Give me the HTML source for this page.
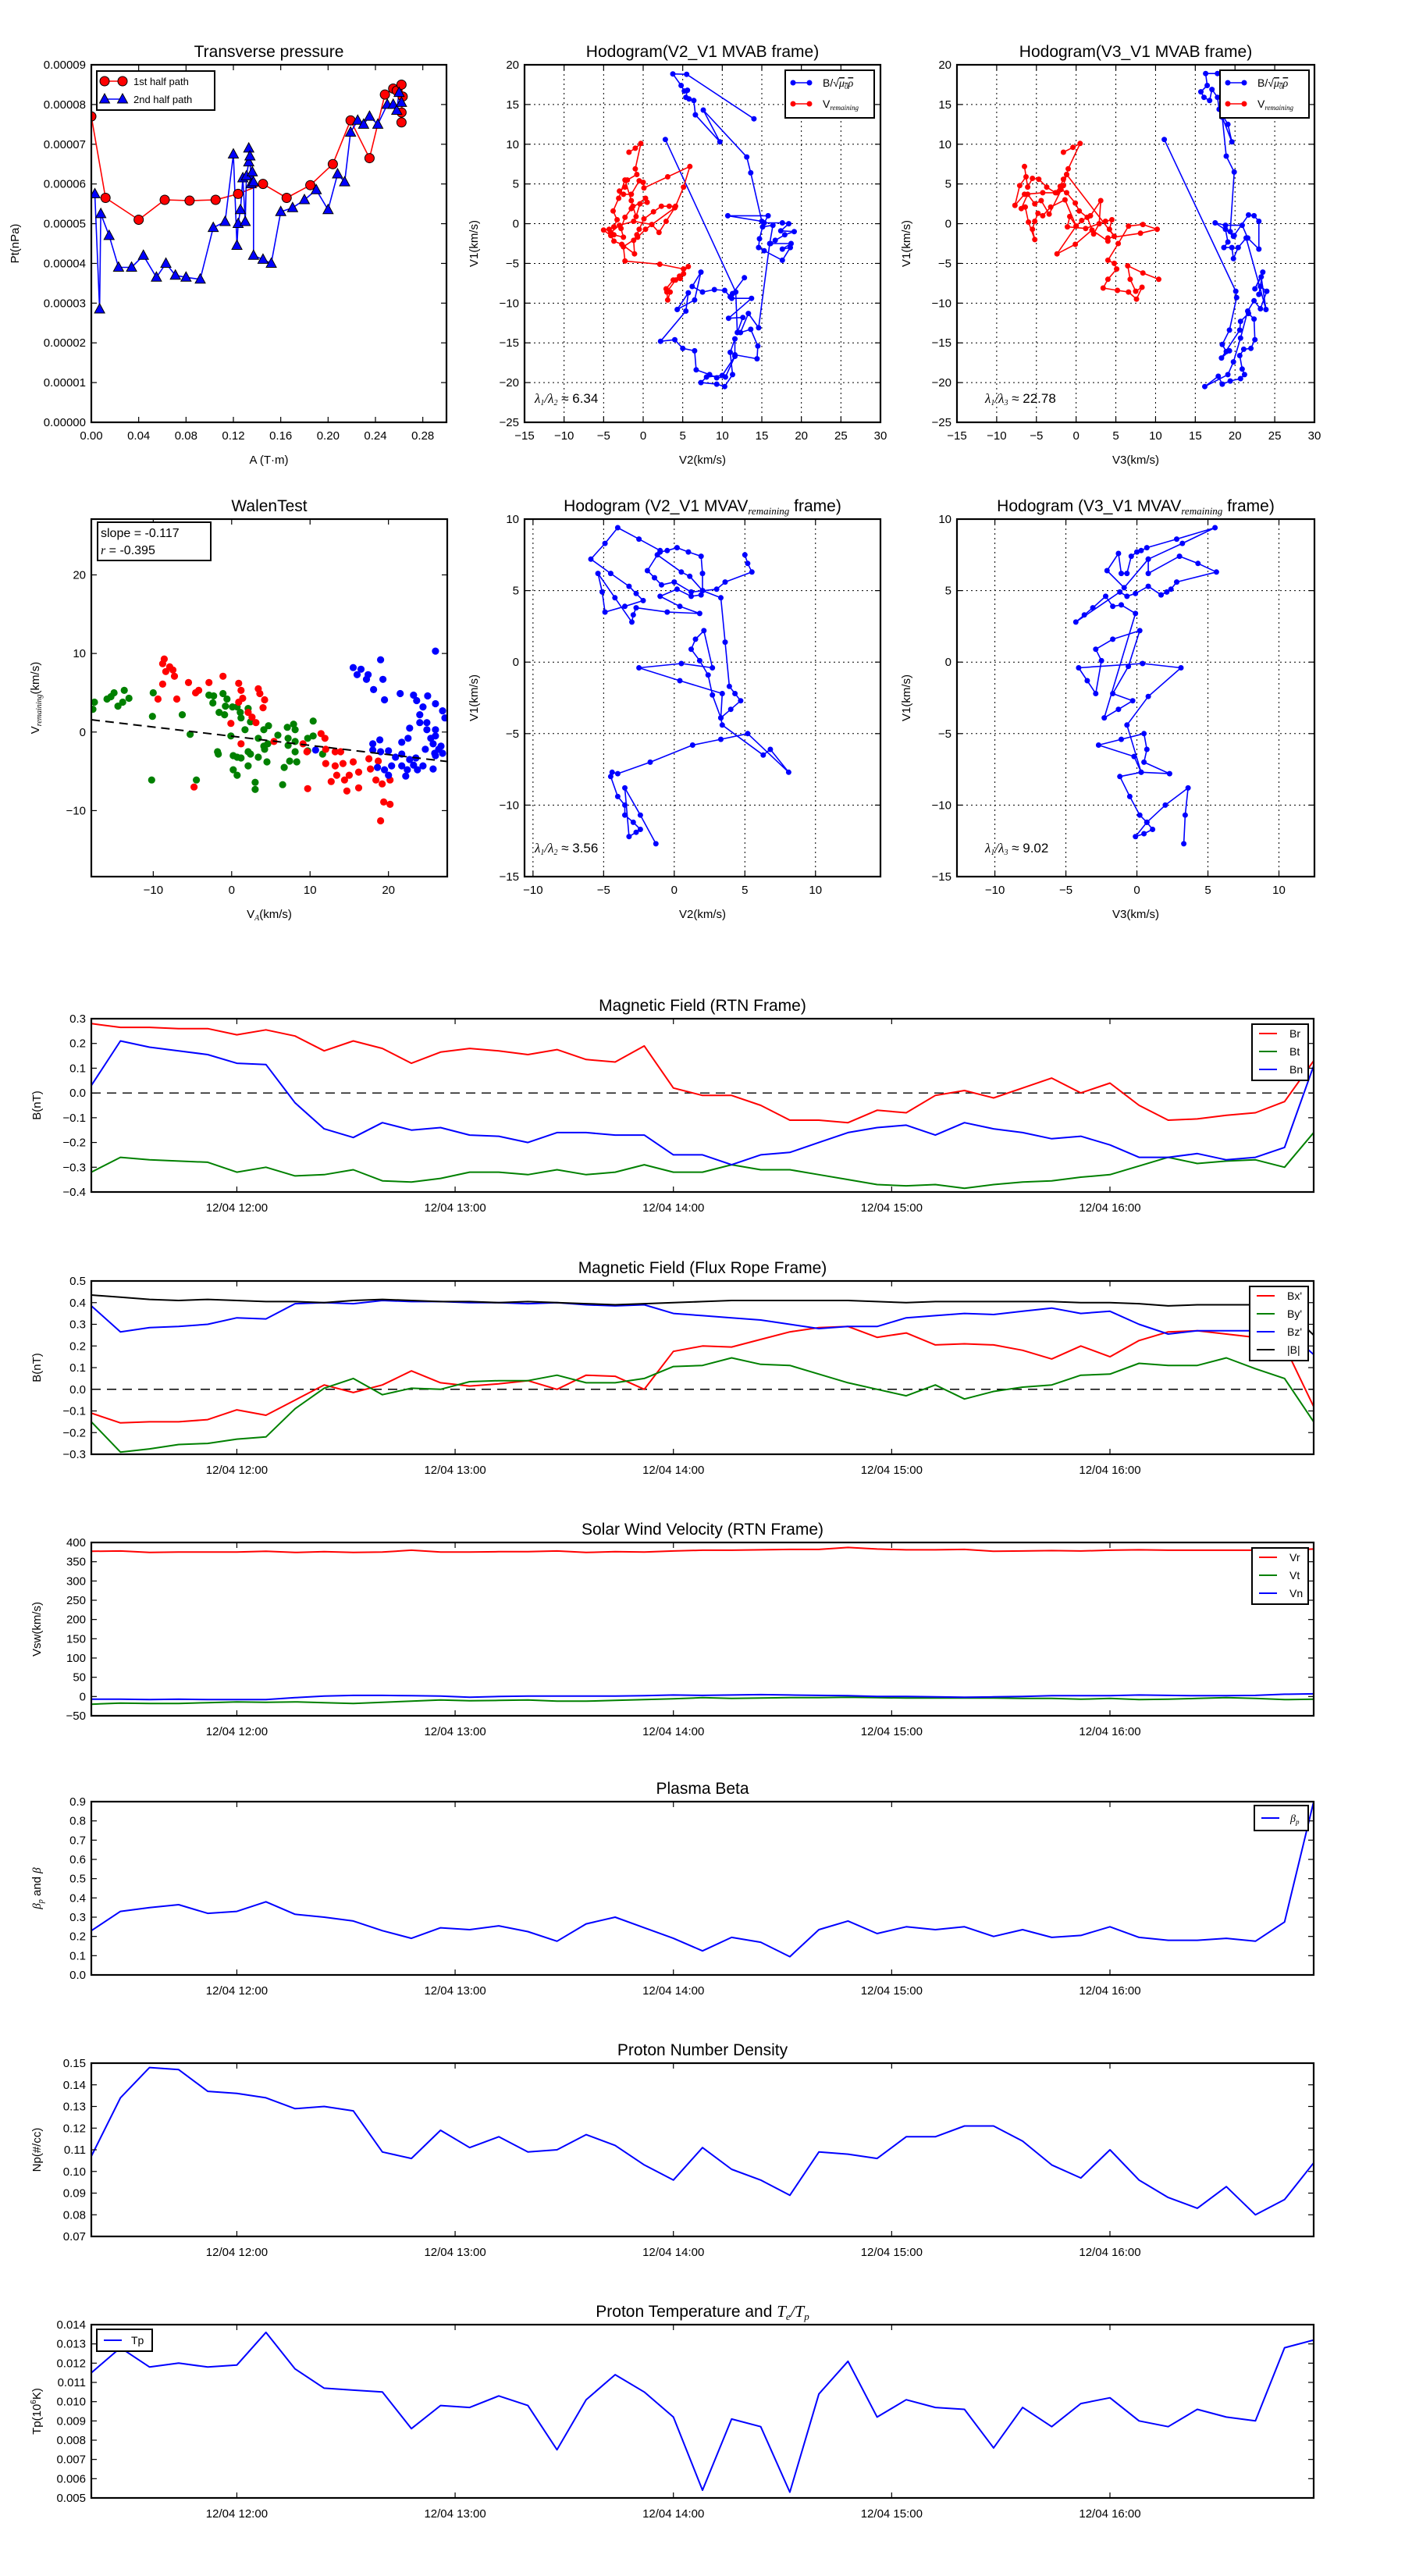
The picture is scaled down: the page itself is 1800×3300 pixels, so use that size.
<!DOCTYPE html>
<html><head><meta charset="utf-8"><style>
html,body{margin:0;padding:0;background:#fff;}
svg{display:block;font-family:"Liberation Sans","DejaVu Sans",sans-serif;}
</style></head><body>
<svg id="fig" xmlns="http://www.w3.org/2000/svg" width="1800" height="3300" viewBox="0 0 1800 3300">
<rect x="0" y="0" width="1800" height="3300" fill="#fff"/>
</svg>
<script>
// ---------- time-series data (minutes since 11:20 on 12/04) ----------
const times = [0,8,16,24,32,40,48,56,64,72,80,88,96,104,112,120,128,136,144,152,160,168,176,184,192,200,208,216,224,232,240,248,256,264,272,280,288,296,304,312,320,328,336];
const timeTickMinutes = [40,100,160,220,280];
const timeTickLabels = ["12/04 12:00","12/04 13:00","12/04 14:00","12/04 15:00","12/04 16:00"];
const Br = [0.28,0.265,0.265,0.26,0.26,0.235,0.255,0.23,0.17,0.21,0.18,0.12,0.165,0.18,0.17,0.155,0.175,0.135,0.125,0.19,0.02,-0.01,-0.01,-0.05,-0.11,-0.11,-0.12,-0.07,-0.08,-0.01,0.01,-0.02,0.02,0.06,0.0,0.04,-0.05,-0.11,-0.105,-0.09,-0.08,-0.035,0.13];
const Bt = [-0.32,-0.26,-0.27,-0.275,-0.28,-0.32,-0.3,-0.335,-0.33,-0.31,-0.355,-0.36,-0.345,-0.32,-0.32,-0.33,-0.31,-0.33,-0.32,-0.29,-0.32,-0.32,-0.29,-0.31,-0.31,-0.33,-0.35,-0.37,-0.375,-0.37,-0.385,-0.37,-0.36,-0.355,-0.34,-0.33,-0.295,-0.26,-0.285,-0.275,-0.27,-0.3,-0.16];
const Bn = [0.03,0.21,0.185,0.17,0.155,0.12,0.115,-0.04,-0.145,-0.18,-0.12,-0.15,-0.14,-0.17,-0.175,-0.2,-0.16,-0.16,-0.17,-0.17,-0.25,-0.25,-0.29,-0.25,-0.24,-0.2,-0.16,-0.14,-0.13,-0.17,-0.12,-0.145,-0.16,-0.185,-0.175,-0.21,-0.26,-0.26,-0.245,-0.27,-0.26,-0.22,0.11];
const Bx = [-0.11,-0.155,-0.15,-0.15,-0.14,-0.095,-0.12,-0.05,0.02,-0.015,0.02,0.085,0.03,0.015,0.025,0.04,0.0,0.065,0.06,0.0,0.175,0.2,0.195,0.23,0.265,0.285,0.29,0.24,0.26,0.205,0.21,0.205,0.18,0.14,0.2,0.15,0.225,0.265,0.27,0.255,0.24,0.2,-0.08];
const By = [-0.15,-0.29,-0.275,-0.255,-0.25,-0.23,-0.22,-0.09,0.005,0.05,-0.025,0.005,0.0,0.035,0.04,0.04,0.065,0.03,0.03,0.05,0.105,0.11,0.145,0.115,0.11,0.07,0.03,0.0,-0.03,0.02,-0.045,-0.01,0.01,0.02,0.065,0.07,0.12,0.11,0.11,0.145,0.095,0.05,-0.15];
const Bz = [0.385,0.265,0.285,0.29,0.3,0.33,0.325,0.395,0.4,0.395,0.41,0.405,0.405,0.4,0.4,0.395,0.4,0.39,0.385,0.39,0.35,0.34,0.33,0.32,0.3,0.28,0.29,0.29,0.33,0.34,0.35,0.345,0.36,0.375,0.35,0.36,0.3,0.255,0.27,0.27,0.27,0.28,0.16];
const Bmag = [0.435,0.425,0.415,0.41,0.415,0.41,0.405,0.405,0.4,0.41,0.415,0.41,0.405,0.405,0.4,0.405,0.4,0.395,0.39,0.395,0.4,0.405,0.41,0.41,0.41,0.41,0.41,0.405,0.4,0.405,0.405,0.405,0.405,0.405,0.4,0.4,0.395,0.385,0.39,0.39,0.39,0.38,0.25];
const Vr = [377,378,374,375,375,375,377,374,376,374,375,380,375,375,376,376,378,374,376,375,378,380,380,381,382,382,387,383,381,381,382,377,378,379,378,380,381,380,380,380,380,380,383];
const Vt = [-20,-17,-18,-18,-16,-14,-15,-14,-16,-18,-15,-12,-9,-11,-10,-9,-12,-12,-10,-8,-6,-3,-5,-4,-3,-3,-2,-3,-4,-4,-4,-4,-5,-5,-7,-5,-8,-7,-5,-3,-5,-8,-7];
const Vn = [-7,-7,-8,-7,-8,-8,-8,-3,1,3,3,2,1,-2,0,1,1,1,1,2,4,3,4,5,4,3,2,0,0,-1,-2,-1,0,2,2,2,4,3,2,2,3,6,7];
const beta = [0.23,0.33,0.35,0.365,0.32,0.33,0.38,0.315,0.3,0.28,0.23,0.19,0.245,0.235,0.255,0.225,0.175,0.265,0.3,0.245,0.19,0.125,0.195,0.17,0.095,0.235,0.28,0.215,0.25,0.235,0.25,0.2,0.235,0.195,0.205,0.25,0.195,0.18,0.18,0.19,0.175,0.275,0.9];
const Np = [0.107,0.134,0.148,0.147,0.137,0.136,0.134,0.129,0.13,0.128,0.109,0.106,0.119,0.111,0.116,0.109,0.11,0.117,0.112,0.103,0.096,0.111,0.101,0.096,0.089,0.109,0.108,0.106,0.116,0.116,0.121,0.121,0.114,0.103,0.097,0.110,0.096,0.088,0.083,0.093,0.080,0.087,0.104];
const Tp = [0.0115,0.0128,0.0118,0.0120,0.0118,0.0119,0.0136,0.0117,0.0107,0.0106,0.0105,0.0086,0.0098,0.0097,0.0103,0.0098,0.0075,0.0101,0.0114,0.0105,0.0092,0.0054,0.0091,0.0087,0.0053,0.0104,0.0121,0.0092,0.0101,0.0097,0.0096,0.0076,0.0097,0.0087,0.0099,0.0102,0.0090,0.0087,0.0096,0.0092,0.0090,0.0128,0.0132];

// ---------- transverse pressure (A in T·m, Pt in 1e-5 nPa) ----------
const tpA1 = [0,0.012,0.04,0.062,0.083,0.105,0.124,0.145,0.165,0.185,0.204,0.219,0.235,0.248,0.255,0.258,0.262,0.263,0.262,0.262];
const tpP1 = [7.7,5.65,5.1,5.6,5.58,5.6,5.75,6.0,5.65,5.97,6.5,7.6,6.65,8.25,8.4,8.35,8.5,8.2,7.8,7.55];
const tpA2 = [0.003,0.007,0.008,0.015,0.023,0.034,0.044,0.055,0.063,0.071,0.08,0.092,0.103,0.113,0.12,0.123,0.124,0.126,0.128,0.13,0.131,0.133,0.133,0.134,0.135,0.136,0.137,0.137,0.145,0.152,0.16,0.17,0.18,0.19,0.2,0.208,0.214,0.219,0.225,0.23,0.235,0.242,0.25,0.255,0.258,0.26,0.262];
const tpP2 = [5.75,2.85,5.25,4.7,3.9,3.9,4.2,3.65,4.0,3.7,3.65,3.6,4.9,5.05,6.75,4.45,5.0,5.35,6.15,5.05,6.2,6.55,6.9,6.7,6.0,6.3,6.05,4.2,4.1,4.0,5.3,5.4,5.6,5.85,5.35,6.25,6.05,7.3,7.6,7.5,7.7,7.5,8.0,8.0,7.85,8.3,8.05];

// ---------- hodogram MVAB V2-V1 ----------
const h1BV2 = [14.0,5.5,3.75,4.8,5.2,5.6,5.4,5.8,6.4,6.6,9.7,7.6,13.1,13.6,15.0,10.7,15.8,15.3,17.6,18.4,17.4,19.1,17.9,16.7,16.1,18.7,17.6,18.6,17.6,15.3,14.6,14.7,15.1,16.4,16.0,14.6,13.3,12.3,13.6,14.5,14.4,11.6,11.6,11.0,11.3,10.3,9.3,7.3,8.0,10.0,11.6,10.4,9.3,8.4,6.7,6.5,5.0,4.0,2.2,5.4,5.7,4.3,6.5,7.3,6.2,7.5,9.0,10.3,11.0,12.8,11.3,11.2,13.7,10.8,12.6,11.9,11.7,2.8];
const h1BV1 = [13.2,18.8,18.85,17.4,16.7,16.8,15.9,15.7,15.5,13.7,10.3,14.3,8.4,6.4,0.3,1.0,1.0,0.1,0.1,0.0,-0.9,-1.0,-1.4,-2.1,-2.5,-2.5,-3.2,-3.0,-4.6,-3.4,-3.0,-1.9,-0.4,-0.2,-2.5,-13.1,-11.3,-13.7,-13.3,-15.4,-17.0,-16.5,-14.5,-16.2,-19.0,-20.5,-20.2,-20.0,-19.3,-19.1,-16.7,-19.3,-19.4,-19.0,-18.4,-16.0,-15.7,-14.6,-14.8,-11.0,-8.7,-10.8,-9.6,-6.1,-7.9,-8.6,-8.3,-8.4,-9.2,-6.8,-8.8,-9.4,-9.4,-11.9,-11.8,-13.7,-8.6,10.6];
const h1VV2 = [-1.8,-1.0,-0.3,-1.0,-0.8,-2.0,-2.3,-3.0,-2.5,-1.5,-0.5,0.0,0.1,3.1,5.9,5.1,4.1,3.3,2.3,1.3,0.1,-0.5,-0.8,-1.2,-1.1,-2.7,-3.7,-4.1,-5.0,-4.3,-3.7,-3.3,-3.8,-3.1,-2.3,-1.5,-1.3,-0.9,-0.4,0.5,0.3,-1.5,-2.3,-2.8,-2.5,-3.7,-4.1,-3.0,-1.2,1.1,2.0,2.9,4.0,0.3,-0.7,-2.5,-2.3,2.1,5.1,5.7,4.6,3.8,2.9,3.4,3.1,3.0,4.1,4.7,5.1];
const h1VV1 = [9.0,9.5,10.1,6.9,6.2,5.5,4.6,4.1,3.7,3.7,5.4,5.2,4.5,5.9,7.2,4.6,2.2,2.2,2.2,1.5,0.6,-0.7,-1.4,-2.1,-3.8,-2.6,-2.2,-1.5,-0.8,-0.7,-0.4,0.5,1.6,3.2,5.5,2.9,2.2,0.9,2.5,2.7,3.2,1.9,0.8,-0.6,-1.7,-1.4,-1.1,-0.2,0.3,-0.1,-1.1,0.3,2.0,-0.7,-1.7,-2.9,-4.7,-5.1,-5.7,-5.4,-6.6,-7.1,-8.2,-8.6,-9.6,-8.6,-7.1,-6.9,-6.3];

// ---------- hodogram MVAB V3-V1 ----------
const h2BV3 = [11.1,20.1,20.2,19.3,18.4,18.9,19.3,18.3,20.6,20.7,21.7,22.4,22.5,22.0,21.1,20.6,20.9,21.2,20.7,19.4,18.4,17.9,16.2,19.1,19.8,20.7,21.6,22.4,23.2,24.0,23.2,23.0,23.5,22.5,23.3,23.9,21.4,20.4,19.8,19.6,18.6,19.1,18.8,19.8,21.7,22.4,23.0,23.0,21.6,20.9,18.8,17.5,19.9,19.4,19.9,18.9,18.4,19.6,19.1,18.0,17.8,17.1,16.8,16.1,15.7,16.5,16.3,17.8];
const h2BV1 = [10.6,-8.5,-9.3,-13.4,-15.2,-16.1,-16.0,-16.9,-13.4,-12.3,-11.3,-12.0,-14.6,-15.7,-15.8,-16.6,-18.3,-19.0,-19.5,-19.8,-20.2,-19.2,-20.5,-19.0,-17.4,-14.4,-11.0,-9.7,-10.7,-8.5,-7.9,-8.9,-6.1,-8.2,-6.7,-10.8,-1.8,-3.0,-4.4,-3.0,-3.0,-2.3,-0.7,-1.6,1.1,1.0,0.3,-3.2,-1.8,-0.2,-0.2,0.1,-1.5,-1.0,6.5,8.5,13.4,10.3,12.5,14.4,15.9,16.9,15.5,15.9,16.6,17.4,18.9,18.9];
const h2VV3 = [10.4,8.4,6.5,6.8,7.5,8.3,7.6,6.6,5.2,3.4,4.0,5.1,4.8,4.0,5.3,6.6,8.4,10.2,8.1,4.0,4.0,2.0,-0.1,-2.4,0.0,-1.4,-3.2,-4.2,-4.8,-5.2,-5.5,-5.2,-6.0,-6.4,-6.9,-6.1,-5.2,-4.4,-3.4,-1.6,-1.2,4.8,4.2,4.5,3.7,1.2,-1.1,-0.8,0.0,0.7,1.8,3.1,2.9,2.2,1.4,0.4,-0.1,-1.2,-1.9,-2.4,-4.2,-6.5,-7.7,-7.1,-6.3,-6.5,-6.1,-5.5,-4.7,-3.7,-2.6,-2.0,-1.6,-1.2,-1.0,0.5,-0.4,-1.6];
const h2VV1 = [-7.0,-6.2,-5.3,-7.0,-8.5,-8.0,-9.5,-8.6,-8.4,-8.1,-7.0,-5.7,-5.0,-4.6,-2.5,-0.3,-0.1,-0.7,-1.2,-1.8,-2.2,-0.8,-2.6,-3.8,-0.3,3.0,2.1,1.0,1.3,0.3,-0.7,-2.0,0.2,2.1,1.9,3.7,2.5,2.9,1.2,4.8,6.2,-1.6,-0.7,0.5,0.3,-0.6,-0.4,0.9,-0.3,0.4,1.0,2.9,0.0,-1.3,0.8,1.6,2.6,3.9,4.3,3.9,3.9,3.7,2.3,4.8,5.9,7.2,4.6,5.7,5.6,4.6,3.9,4.7,5.6,6.2,6.9,10.1,9.6,9.0];

// ---------- hodogram MVAV V2-V1 ----------
const h3V2 = [-1.3,-2.4,-3.5,-3.2,-2.7,-2.4,-2.9,-3.5,-3.5,-4.0,-4.5,-4.4,-4.0,-1.7,1.3,3.3,5.2,8.1,6.8,6.3,3.4,3.3,2.7,2.4,1.8,1.2,1.5,2.1,2.7,0.5,-2.5,0.4,3.4,3.3,4.0,4.7,4.3,3.9,3.6,3.3,2.0,2.0,1.9,1.0,0.2,-0.5,-1.0,-1.2,0.5,1.1,2.0,1.9,1.2,0.2,-1.0,0.4,1.8,-0.5,-2.7,-2.9,-3.0,-4.2,-5.4,-5.1,-4.9,-3.5,-2.2,-2.7,-3.2,-4.5,-5.9,-4.9,-4.0,-2.5,-1.0,-1.9,-1.4,-0.9,0.0,1.2,3.0,3.6,5.5,5.2,5.0];
const h3V1 = [-12.7,-10.7,-8.8,-12.2,-11.9,-11.7,-11.2,-10.7,-10.0,-9.4,-8.0,-7.7,-7.8,-7.0,-5.8,-5.4,-5.0,-7.7,-6.1,-6.5,-4.4,-3.9,-2.3,-0.9,0.1,0.9,1.6,2.2,-0.4,-0.1,-0.4,-1.3,-2.2,-3.9,-3.3,-2.7,-2.2,-1.7,1.4,4.5,5.0,6.2,7.4,7.7,8.0,7.8,7.7,7.5,6.3,6.0,5.0,4.7,4.6,5.1,4.6,3.9,3.4,3.5,3.8,3.3,2.8,4.5,6.2,4.9,3.5,3.9,4.3,4.8,5.3,6.2,7.2,8.3,9.4,8.6,7.8,6.4,5.9,5.4,5.6,4.9,5.1,5.6,6.3,6.9,7.5];

// ---------- hodogram MVAV V3-V1 ----------
const h4V3 = [3.3,3.4,3.6,2.0,0.7,1.1,0.5,-0.1,0.7,0.2,-0.5,-1.2,0.3,2.3,0.5,0.7,0.5,-1.1,-2.7,-0.2,0.3,-0.7,0.8,3.1,0.4,-4.1,-3.5,-2.9,-2.5,-2.9,-1.7,0.2,-0.6,-1.7,-0.3,-1.3,-2.3,-0.1,-1.1,-1.7,-2.2,-3.1,-3.7,-4.3,-1.2,-0.7,-0.1,0.8,1.7,2.1,2.4,2.8,5.6,4.3,3.0,0.8,0.8,-0.9,-2.1,-1.3,-1.1,-0.7,-0.4,0.0,0.3,0.7,2.8,5.5,3.2,0.8];
const h4V1 = [-12.7,-10.7,-8.8,-10.0,-11.2,-11.7,-12.0,-12.2,-11.2,-10.7,-9.4,-8.0,-7.7,-7.8,-7.0,-6.1,-5.0,-5.4,-5.8,-6.6,-7.7,-4.4,-2.4,-0.4,-0.1,-0.4,-1.3,-2.2,0.1,0.9,1.6,2.2,-0.3,-2.2,-2.7,-3.3,-3.9,3.4,4.0,3.9,4.6,3.8,3.3,2.8,4.9,4.6,4.8,5.3,4.7,4.9,5.1,5.6,6.3,6.9,7.4,6.2,7.2,5.2,6.4,7.6,6.2,6.2,7.4,7.7,7.8,8.0,8.6,9.4,8.3,7.2];

// ---------- Walen test scatter ----------
const wGreenVA = [-17.5,-17.7,-15.9,-15.0,-15.4,-14.5,-13.7,-13.1,-13.9,-10.0,-10.1,-10.2,-6.3,-5.3,-4.5,-2.9,-2.3,-2.4,-1.6,-1.1,-0.6,-0.9,-0.8,0.1,-0.1,0.7,1.2,1.1,2.1,1.7,2.4,4.1,4.7,5.9,7.1,7.9,8.1,7.2,8.1,9.7,10.4,10.4,9.7,11.6,-1.8,-1.7,0.2,0.7,1.2,2.1,2.4,3.4,4.2,4.6,2.1,0.2,0.7,3.0,3.0,4.5,6.7,7.4,8.3,6.5,4.1,3.4,7.2,8.1];
const wGreenV = [3.8,2.9,4.2,5.0,4.5,3.3,5.3,4.3,3.8,5.0,2.0,-6.1,2.2,-0.3,-6.1,4.7,4.6,3.7,2.5,4.9,4.2,2.2,3.3,3.2,-0.5,3.2,1.8,2.5,3.0,0.3,1.3,0.3,0.8,-0.4,0.6,1.0,0.3,-0.8,-1.2,-0.8,1.4,-0.5,-2.4,-2.8,-2.5,-2.8,-3.0,-3.2,-3.3,-2.5,-2.8,-3.2,-2.2,-1.5,-4.3,-4.8,-5.5,-6.4,-7.3,-3.8,-4.5,-3.7,-3.8,-6.7,-1.8,-0.8,-1.7,-2.5];
const wRedVA = [-8.6,-8.8,-7.9,-7.5,-8.4,-7.3,-8.8,-9.4,-7.0,-5.5,-4.6,-4.2,-2.9,-1.1,0.9,1.2,1.4,0.9,-0.1,1.2,2.1,2.6,3.4,3.6,4.2,4.0,3.1,5.4,9.1,9.6,11.4,11.9,12.0,13.2,13.9,12.0,13.2,14.2,15.5,13.4,12.7,14.4,15.0,16.2,16.2,14.7,9.7,-4.8,17.5,17.7,18.4,19.2,20.2,19.4,20.2,19.0,18.7];
const wRedV = [9.3,8.7,8.3,7.9,7.7,7.1,6.1,4.2,4.2,6.3,5.0,5.3,6.3,7.1,6.2,5.3,4.3,3.8,1.1,-1.5,2.5,1.9,5.5,4.9,4.1,3.1,1.2,-1.2,-1.5,-2.5,-0.2,-0.8,-2.2,-2.5,-2.5,-4.0,-4.3,-4.0,-3.8,-5.5,-6.3,-6.1,-5.5,-5.1,-7.1,-7.5,-7.2,-7.0,-3.4,-4.7,-6.1,-6.6,-6.1,-8.9,-9.2,-11.3,-3.7];
const wBlueVA = [15.5,16.0,16.5,17.4,17.2,19.0,19.3,18.1,19.5,21.5,23.2,23.6,25.0,26.0,24.4,24.0,24.0,24.9,24.9,26.0,26.0,26.9,27.2,22.7,22.5,21.7,18.0,18.9,18.0,19.0,20.0,20.9,21.7,22.7,23.5,24.7,25.7,26.4,26.9,26.0,18.6,19.5,20.4,21.7,22.4,23.7,22.2,20.0,25.7,24.4,23.2,10.7,26.7,25.4,25.9,26.0];
const wBlueV = [8.2,7.3,8.0,7.3,6.7,9.2,6.7,5.4,4.1,4.9,4.7,4.0,4.6,3.6,3.2,2.2,1.2,1.2,0.3,0.3,-0.5,2.7,1.8,0.5,-0.8,-1.3,-1.5,-1.0,-2.3,-2.5,-2.4,-3.2,-2.8,-3.5,-3.3,-2.2,-1.5,-2.2,-2.7,-3.0,-4.5,-4.8,-4.3,-4.3,-4.8,-4.8,-5.6,-5.5,-4.7,-4.3,-4.2,-2.3,-1.8,-0.8,-2.7,10.3];
const walenSlope = -0.117;
const walenIntercept = -0.53;

// ================= drawing =================
const NS = "http://www.w3.org/2000/svg";
const svg = document.getElementById('fig');
function mk(tag, attrs, parent){
  const e = document.createElementNS(NS, tag);
  for (const k in attrs) e.setAttribute(k, attrs[k]);
  (parent || svg).appendChild(e);
  return e;
}
function txt(str, x, y, size, anchor, parent, extra){
  const t = mk('text', Object.assign({x:x, y:y, 'font-size':size, 'text-anchor':anchor||'start', fill:'#000'}, extra||{}), parent);
  t.textContent = str;
  return t;
}
function scale(d0,d1,r0,r1){ return v => r0 + (v-d0)/(d1-d0)*(r1-r0); }
let clipId = 0;

function frame(g, x0, y0, w, h, name){
  const r = mk('rect', {x:x0, y:y0, width:w, height:h, fill:'none', stroke:'#000', 'stroke-width':2.2}, g);
  
  
}
function clip(g, x0, y0, w, h){
  clipId++;
  const cp = mk('clipPath', {id:'cp'+clipId}, g);
  mk('rect', {x:x0, y:y0, width:w, height:h}, cp);
  const cg = mk('g', {'clip-path':'url(#cp'+clipId+')'}, g);
  
  
  return cg;
}
function xTicks(g, sx, vals, labels, y0, y1, labY, grid){
  vals.forEach((v,i)=>{
    const x = sx(v);
    const t1 = mk('line', {x1:x, x2:x, y1:y1, y2:y1-7, stroke:'#000', 'stroke-width':1.2}, g);
    
    
    const t2 = mk('line', {x1:x, x2:x, y1:y0, y2:y0+7, stroke:'#000', 'stroke-width':1.2}, g);
    
    
    if (grid){
      const gl = mk('line', {x1:x, x2:x, y1:y0, y2:y1, stroke:'#000', 'stroke-width':1, 'stroke-dasharray':'2,4'}, g);
      
      
    }
    const lab = txt(labels[i], x, labY, 15, 'middle', g);
    
    
  });
}
function yTicks(g, sy, vals, labels, x0, x1, grid){
  vals.forEach((v,i)=>{
    const y = sy(v);
    const t1 = mk('line', {x1:x0, x2:x0+7, y1:y, y2:y, stroke:'#000', 'stroke-width':1.2}, g);
    
    
    const t2 = mk('line', {x1:x1, x2:x1-7, y1:y, y2:y, stroke:'#000', 'stroke-width':1.2}, g);
    
    
    if (grid){
      const gl = mk('line', {x1:x0, x2:x1, y1:y, y2:y, stroke:'#000', 'stroke-width':1, 'stroke-dasharray':'2,4'}, g);
      
      
    }
    const lab = txt(labels[i], x0-7, y+5, 15, 'end', g);
    
    
  });
}
function polyline(g, xs, ys, sx, sy, color, width){
  const pts = xs.map((v,i)=> sx(v).toFixed(1)+','+sy(ys[i]).toFixed(1)).join(' ');
  return mk('polyline', {points:pts, fill:'none', stroke:color, 'stroke-width':width, 'stroke-linejoin':'round'}, g);
}

// ---------- time series panels ----------
const TSX0 = 117, TSX1 = 1683, TSH = 222;
const sxT = scale(0, 336, TSX0, TSX1);
function tsPanel(cfg){
  const g = mk('g', {});
  
  
  const y0 = cfg.top, y1 = cfg.top + TSH;
  const sy = scale(cfg.ymin, cfg.ymax, y1, y0);
  const title = txt('', (TSX0+TSX1)/2, y0-10, 21, 'middle', g);
  title.innerHTML = cfg.title;
  
  
  const yl = txt('', 52, (y0+y1)/2, 15, 'middle', g, {transform:'rotate(-90 52 '+((y0+y1)/2)+')'});
  yl.innerHTML = cfg.ylabel;
  
  
  const cg = clip(g, TSX0, y0, TSX1-TSX0, TSH);
  if (cfg.zero){
    const zl = mk('line', {x1:TSX0, x2:TSX1, y1:sy(0), y2:sy(0), stroke:'#000', 'stroke-width':1.4, 'stroke-dasharray':'12,8'}, cg);
    
    
  }
  cfg.series.forEach(s=>{
    const p = polyline(cg, times, s.vals, sxT, sy, s.color, 2);
    
    
  });
  xTicks(g, sxT, timeTickMinutes, timeTickLabels, y0, y1, y1+25, false);
  yTicks(g, sy, cfg.yticks, cfg.ylabels, TSX0, TSX1, false);
  frame(g, TSX0, y0, TSX1-TSX0, TSH, cfg.name);
  if (cfg.legend){
    const L = cfg.legend;
    const lg = mk('g', {}, g);
    
    
    const box = mk('rect', {x:L.x, y:L.y, width:L.w, height:L.h, fill:'#fff', stroke:'#000', 'stroke-width':2}, lg);
    
    
    cfg.series.forEach((s,i)=>{
      const yy = L.y + L.first + i*L.step;
      const ln = mk('line', {x1:L.x+9, x2:L.x+32, y1:yy, y2:yy, stroke:s.color, 'stroke-width':2}, lg);
      
      
      const lt = txt('', L.x+L.tx, yy+5, 14, 'start', lg);
      lt.innerHTML = s.label;
      
      
    });
  }
}
const tsTop = [1305, 1641, 1976, 2308, 2643, 2978];
tsPanel({name:'magnetic-field-rtn-panel', top:tsTop[0], ymin:-0.4, ymax:0.3, title:'Magnetic Field (RTN Frame)', ylabel:'B(nT)', zero:true,
  yticks:[-0.4,-0.3,-0.2,-0.1,0,0.1,0.2,0.3], ylabels:['−0.4','−0.3','−0.2','−0.1','0.0','0.1','0.2','0.3'],
  series:[{key:'br',vals:Br,color:'#ff0000',label:'Br'},{key:'bt',vals:Bt,color:'#008000',label:'Bt'},{key:'bn',vals:Bn,color:'#0000ff',label:'Bn'}],
  legend:{x:1604,y:1312,w:72,h:72,first:12,step:23,tx:48}});
tsPanel({name:'magnetic-field-flux-rope-panel', top:tsTop[1], ymin:-0.3, ymax:0.5, title:'Magnetic Field (Flux Rope Frame)', ylabel:'B(nT)', zero:true,
  yticks:[-0.3,-0.2,-0.1,0,0.1,0.2,0.3,0.4,0.5], ylabels:['−0.3','−0.2','−0.1','0.0','0.1','0.2','0.3','0.4','0.5'],
  series:[{key:'bx-prime',vals:Bx,color:'#ff0000',label:"Bx'"},{key:'by-prime',vals:By,color:'#008000',label:"By'"},{key:'bz-prime',vals:Bz,color:'#0000ff',label:"Bz'"},{key:'b-magnitude',vals:Bmag,color:'#000000',label:'|B|'}],
  legend:{x:1601,y:1648,w:75,h:95,first:12,step:23,tx:48}});
tsPanel({name:'solar-wind-velocity-panel', top:tsTop[2], ymin:-50, ymax:400, title:'Solar Wind Velocity (RTN Frame)', ylabel:'Vsw(km/s)', zero:false,
  yticks:[-50,0,50,100,150,200,250,300,350,400], ylabels:['−50','0','50','100','150','200','250','300','350','400'],
  series:[{key:'vr',vals:Vr,color:'#ff0000',label:'Vr'},{key:'vt',vals:Vt,color:'#008000',label:'Vt'},{key:'vn',vals:Vn,color:'#0000ff',label:'Vn'}],
  legend:{x:1604,y:1983,w:72,h:72,first:12,step:23,tx:48}});
tsPanel({name:'plasma-beta-panel', top:tsTop[3], ymin:0, ymax:0.9, title:'Plasma Beta', ylabel:'<tspan font-style="italic" font-family="Liberation Serif">β<tspan font-size="10" dy="3">p</tspan></tspan><tspan dy="-3"> and </tspan><tspan font-style="italic" font-family="Liberation Serif">β</tspan>', zero:false,
  yticks:[0,0.1,0.2,0.3,0.4,0.5,0.6,0.7,0.8,0.9], ylabels:['0.0','0.1','0.2','0.3','0.4','0.5','0.6','0.7','0.8','0.9'],
  series:[{key:'beta-p',vals:beta,color:'#0000ff',label:'<tspan font-style="italic" font-family="Liberation Serif">β<tspan font-size="9" dy="3">p</tspan></tspan>'}],
  legend:{x:1607,y:2313,w:69,h:32,first:16,step:23,tx:46}});
tsPanel({name:'proton-density-panel', top:tsTop[4], ymin:0.07, ymax:0.15, title:'Proton Number Density', ylabel:'Np(#/cc)', zero:false,
  yticks:[0.07,0.08,0.09,0.10,0.11,0.12,0.13,0.14,0.15], ylabels:['0.07','0.08','0.09','0.10','0.11','0.12','0.13','0.14','0.15'],
  series:[{key:'np',vals:Np,color:'#0000ff',label:'Np'}]});
tsPanel({name:'proton-temperature-panel', top:tsTop[5], ymin:0.005, ymax:0.014, title:'Proton Temperature and <tspan font-style="italic" font-family="Liberation Serif">T<tspan font-size="13" dy="4">e</tspan><tspan dy="-4">/T</tspan><tspan font-size="13" dy="4">p</tspan></tspan>', ylabel:'Tp(10<tspan font-size="10" dy="-6">6</tspan><tspan dy="6">K)</tspan>', zero:false,
  yticks:[0.005,0.006,0.007,0.008,0.009,0.010,0.011,0.012,0.013,0.014], ylabels:['0.005','0.006','0.007','0.008','0.009','0.010','0.011','0.012','0.013','0.014'],
  series:[{key:'tp',vals:Tp,color:'#0000ff',label:'Tp'}],
  legend:{x:124,y:2984,w:71,h:28,first:14,step:23,tx:44}});

// ---------- square panels ----------
function sqPanel(cfg){
  const g = mk('g', {});
  
  
  const sx = scale(cfg.xmin, cfg.xmax, cfg.x0, cfg.x0+cfg.w);
  const sy = scale(cfg.ymin, cfg.ymax, cfg.y0+cfg.h, cfg.y0);
  const title = txt('', cfg.x0+cfg.w/2, cfg.y0-10, 21, 'middle', g);
  title.innerHTML = cfg.title;
  
  
  const xl = txt('', cfg.x0+cfg.w/2, cfg.y0+cfg.h+53, 15, 'middle', g);
  xl.innerHTML = cfg.xlabel;
  
  
  const yx = cfg.ylabX, yc = cfg.y0+cfg.h/2;
  const yl = txt('', yx, yc, 15, 'middle', g, {transform:'rotate(-90 '+yx+' '+yc+')'});
  yl.innerHTML = cfg.ylabel;
  
  
  xTicks(g, sx, cfg.xticks, cfg.xlabels, cfg.y0, cfg.y0+cfg.h, cfg.y0+cfg.h+22, cfg.grid);
  yTicks(g, sy, cfg.yticks, cfg.ylabels, cfg.x0, cfg.x0+cfg.w, cfg.grid);
  const cg = clip(g, cfg.x0, cfg.y0, cfg.w, cfg.h);
  return {g, cg, sx, sy};
}
function markers(g, xs, ys, sx, sy, color, r, name){
  xs.forEach((v,i)=>{
    const c = mk('circle', {cx:sx(v).toFixed(1), cy:sy(ys[i]).toFixed(1), r:r, fill:color, stroke:'none'}, g);
    
    
  });
}
const mkLbl = s => s.map(v => (v<0?'−':'') + Math.abs(v));

// Transverse pressure
{
  const P = sqPanel({name:'transverse-pressure-panel', x0:117, y0:83, w:455, h:458, xmin:0, xmax:0.3, ymin:0, ymax:9,
    title:'Transverse pressure', xlabel:'A (T·m)', ylabel:'Pt(nPa)', ylabX:24, grid:false,
    xticks:[0,0.04,0.08,0.12,0.16,0.2,0.24,0.28], xlabels:['0.00','0.04','0.08','0.12','0.16','0.20','0.24','0.28'],
    yticks:[0,1,2,3,4,5,6,7,8,9], ylabels:['0.00000','0.00001','0.00002','0.00003','0.00004','0.00005','0.00006','0.00007','0.00008','0.00009']});
  const l1 = polyline(P.cg, tpA1, tpP1, P.sx, P.sy, '#ff0000', 1.6);
  
  
  const l2 = polyline(P.cg, tpA2, tpP2, P.sx, P.sy, '#0000ff', 1.6);
  
  
  tpA1.forEach((v,i)=>{
    const c = mk('circle', {cx:P.sx(v), cy:P.sy(tpP1[i]), r:6, fill:'#ff0000', stroke:'#000', 'stroke-width':1}, P.cg);
    
    
  });
  tpA2.forEach((v,i)=>{
    const x = P.sx(v), y = P.sy(tpP2[i]);
    const t = mk('polygon', {points:`${x},${y-7} ${x-6.5},${y+5} ${x+6.5},${y+5}`, fill:'#0000ff', stroke:'#000', 'stroke-width':1}, P.cg);
    
    
  });
  frame(P.g, 117, 83, 455, 458, 'transverse-pressure');
  const lg = mk('g', {}, P.g);
  
  
  const box = mk('rect', {x:124, y:91, width:151, height:50, fill:'#fff', stroke:'#000', 'stroke-width':2}, lg);
  
  
  mk('line', {x1:134, x2:157, y1:104, y2:104, stroke:'#ff0000', 'stroke-width':1.6}, lg);
  [134,157].forEach(x=>mk('circle', {cx:x, cy:104, r:6, fill:'#ff0000', stroke:'#000', 'stroke-width':1}, lg));
  const t1 = txt('1st half path', 171, 109, 13, 'start', lg);
  
  
  mk('line', {x1:134, x2:157, y1:127, y2:127, stroke:'#0000ff', 'stroke-width':1.6}, lg);
  [134,157].forEach(x=>mk('polygon', {points:`${x},${120} ${x-6.5},${132} ${x+6.5},${132}`, fill:'#0000ff', stroke:'#000', 'stroke-width':1}, lg));
  const t2 = txt('2nd half path', 171, 132, 13, 'start', lg);
  
  
}

function hodoLegend(g, x, y){
  const lg = mk('g', {}, g);
  
  
  const box = mk('rect', {x:x, y:y, width:114, height:61, fill:'#fff', stroke:'#000', 'stroke-width':2}, lg);
  
  
  mk('line', {x1:x+10, x2:x+31, y1:y+16, y2:y+16, stroke:'#0000ff', 'stroke-width':1.6}, lg);
  mk('circle', {cx:x+10, cy:y+16, r:3.5, fill:'#0000ff'}, lg);
  mk('circle', {cx:x+31, cy:y+16, r:3.5, fill:'#0000ff'}, lg);
  const t1 = txt('', x+48, y+21, 14, 'start', lg);
  t1.innerHTML = 'B/√<tspan font-style="italic" font-family="Liberation Serif" text-decoration="overline">μ<tspan font-size="9" dy="3">0</tspan><tspan dy="-3">ρ</tspan></tspan>';
  
  
  mk('line', {x1:x+10, x2:x+31, y1:y+43, y2:y+43, stroke:'#ff0000', 'stroke-width':1.6}, lg);
  mk('circle', {cx:x+10, cy:y+43, r:3.5, fill:'#ff0000'}, lg);
  mk('circle', {cx:x+31, cy:y+43, r:3.5, fill:'#ff0000'}, lg);
  const t2 = txt('', x+48, y+48, 14, 'start', lg);
  t2.innerHTML = 'V<tspan font-size="9" dy="3" font-style="italic" font-family="Liberation Serif">remaining</tspan>';
  
  
}
function ratioLabel(g, x, y, sub, val){
  const t = txt('', x, y, 17, 'start', g);
  t.innerHTML = '<tspan font-style="italic" font-family="Liberation Serif">λ<tspan font-size="10" dy="3">1</tspan><tspan dy="-3">/λ</tspan><tspan font-size="10" dy="3">'+sub+'</tspan></tspan><tspan dy="-3"> ≈ '+val+'</tspan>';
  
  
}
const tk1 = [-15,-10,-5,0,5,10,15,20,25,30];
const tk1y = [-25,-20,-15,-10,-5,0,5,10,15,20];
// Hodogram V2-V1 MVAB
{
  const P = sqPanel({name:'hodogram-v2-v1-mvab-panel', x0:672, y0:83, w:456, h:458, xmin:-15, xmax:30, ymin:-25, ymax:20,
    title:'Hodogram(V2_V1 MVAB frame)', xlabel:'V2(km/s)', ylabel:'V1(km/s)', ylabX:612, grid:true,
    xticks:tk1, xlabels:mkLbl(tk1), yticks:tk1y, ylabels:mkLbl(tk1y)});
  const lb = polyline(P.cg, h1BV2, h1BV1, P.sx, P.sy, '#0000ff', 1.6);
  
  
  markers(P.cg, h1BV2, h1BV1, P.sx, P.sy, '#0000ff', 3.5, 'b-hodogram-point');
  const lv = polyline(P.cg, h1VV2, h1VV1, P.sx, P.sy, '#ff0000', 1.6);
  
  
  markers(P.cg, h1VV2, h1VV1, P.sx, P.sy, '#ff0000', 3.5, 'v-hodogram-point');
  frame(P.g, 672, 83, 456, 458, 'hodogram-v2-v1-mvab');
  hodoLegend(P.g, 1006, 90);
  ratioLabel(P.g, 685, 516, '2', '6.34');
}
// Hodogram V3-V1 MVAB
{
  const P = sqPanel({name:'hodogram-v3-v1-mvab-panel', x0:1226, y0:83, w:458, h:458, xmin:-15, xmax:30, ymin:-25, ymax:20,
    title:'Hodogram(V3_V1 MVAB frame)', xlabel:'V3(km/s)', ylabel:'V1(km/s)', ylabX:1166, grid:true,
    xticks:tk1, xlabels:mkLbl(tk1), yticks:tk1y, ylabels:mkLbl(tk1y)});
  const lb = polyline(P.cg, h2BV3, h2BV1, P.sx, P.sy, '#0000ff', 1.6);
  
  
  markers(P.cg, h2BV3, h2BV1, P.sx, P.sy, '#0000ff', 3.5, 'b-hodogram-point');
  const lv = polyline(P.cg, h2VV3, h2VV1, P.sx, P.sy, '#ff0000', 1.6);
  
  
  markers(P.cg, h2VV3, h2VV1, P.sx, P.sy, '#ff0000', 3.5, 'v-hodogram-point');
  frame(P.g, 1226, 83, 458, 458, 'hodogram-v3-v1-mvab');
  hodoLegend(P.g, 1563, 90);
  ratioLabel(P.g, 1262, 516, '3', '22.78');
}
// Walen test
{
  const wx = [-10,0,10,20], wy = [-10,0,10,20];
  const P = sqPanel({name:'walen-test-panel', x0:117, y0:665, w:456, h:458, xmin:-17.9, xmax:27.5, ymin:-18.4, ymax:27.1,
    title:'WalenTest', xlabel:'V<tspan font-size="10" dy="3" font-style="italic" font-family="Liberation Serif">A</tspan><tspan dy="-3">(km/s)</tspan>',
    ylabel:'V<tspan font-size="10" dy="3" font-style="italic" font-family="Liberation Serif">remaining</tspan><tspan dy="-3">(km/s)</tspan>', ylabX:50, grid:false,
    xticks:wx, xlabels:mkLbl(wx), yticks:wy, ylabels:mkLbl(wy)});
  markers(P.cg, wGreenVA, wGreenV, P.sx, P.sy, '#008000', 4.6, 'walen-point-green');
  markers(P.cg, wRedVA, wRedV, P.sx, P.sy, '#ff0000', 4.6, 'walen-point-red');
  markers(P.cg, wBlueVA, wBlueV, P.sx, P.sy, '#0000ff', 4.6, 'walen-point-blue');
  const xa = -17.9, xb = 27.5;
  const fit = mk('line', {x1:P.sx(xa), y1:P.sy(walenSlope*xa+walenIntercept), x2:P.sx(xb), y2:P.sy(walenSlope*xb+walenIntercept), stroke:'#000', 'stroke-width':2, 'stroke-dasharray':'11,7'}, P.cg);
  
  
  frame(P.g, 117, 665, 456, 458, 'walen-test');
  const box = mk('rect', {x:125, y:669, width:145, height:49, fill:'#fff', stroke:'#000', 'stroke-width':2}, P.g);
  
  
  const s1 = txt('slope = -0.117', 129, 688, 16, 'start', P.g);
  
  
  const s2 = txt('', 129, 710, 16, 'start', P.g);
  s2.innerHTML = '<tspan font-style="italic" font-family="Liberation Serif">r</tspan> = -0.395';
  
  
}
// Hodogram MVAV V2-V1
{
  const xt = [-10,-5,0,5,10], yt = [-15,-10,-5,0,5,10];
  const P = sqPanel({name:'hodogram-v2-v1-mvav-panel', x0:672, y0:665, w:456, h:458, xmin:-10.6, xmax:14.6, ymin:-15, ymax:10,
    title:'Hodogram (V2_V1 MVAV<tspan font-size="13" dy="4" font-style="italic" font-family="Liberation Serif">remaining</tspan><tspan dy="-4"> frame)</tspan>', xlabel:'V2(km/s)', ylabel:'V1(km/s)', ylabX:612, grid:true,
    xticks:xt, xlabels:mkLbl(xt), yticks:yt, ylabels:mkLbl(yt)});
  const lb = polyline(P.cg, h3V2, h3V1, P.sx, P.sy, '#0000ff', 1.6);
  
  
  markers(P.cg, h3V2, h3V1, P.sx, P.sy, '#0000ff', 3.5, 'mvav-hodogram-point');
  frame(P.g, 672, 665, 456, 458, 'hodogram-v2-v1-mvav');
  ratioLabel(P.g, 685, 1092, '2', '3.56');
}
// Hodogram MVAV V3-V1
{
  const xt = [-10,-5,0,5,10], yt = [-15,-10,-5,0,5,10];
  const P = sqPanel({name:'hodogram-v3-v1-mvav-panel', x0:1226, y0:665, w:458, h:458, xmin:-12.67, xmax:12.5, ymin:-15, ymax:10,
    title:'Hodogram (V3_V1 MVAV<tspan font-size="13" dy="4" font-style="italic" font-family="Liberation Serif">remaining</tspan><tspan dy="-4"> frame)</tspan>', xlabel:'V3(km/s)', ylabel:'V1(km/s)', ylabX:1166, grid:true,
    xticks:xt, xlabels:mkLbl(xt), yticks:yt, ylabels:mkLbl(yt)});
  const lb = polyline(P.cg, h4V3, h4V1, P.sx, P.sy, '#0000ff', 1.6);
  
  
  markers(P.cg, h4V3, h4V1, P.sx, P.sy, '#0000ff', 3.5, 'mvav-hodogram-point');
  frame(P.g, 1226, 665, 458, 458, 'hodogram-v3-v1-mvav');
  ratioLabel(P.g, 1262, 1092, '3', '9.02');
}
</script>
</body></html>
